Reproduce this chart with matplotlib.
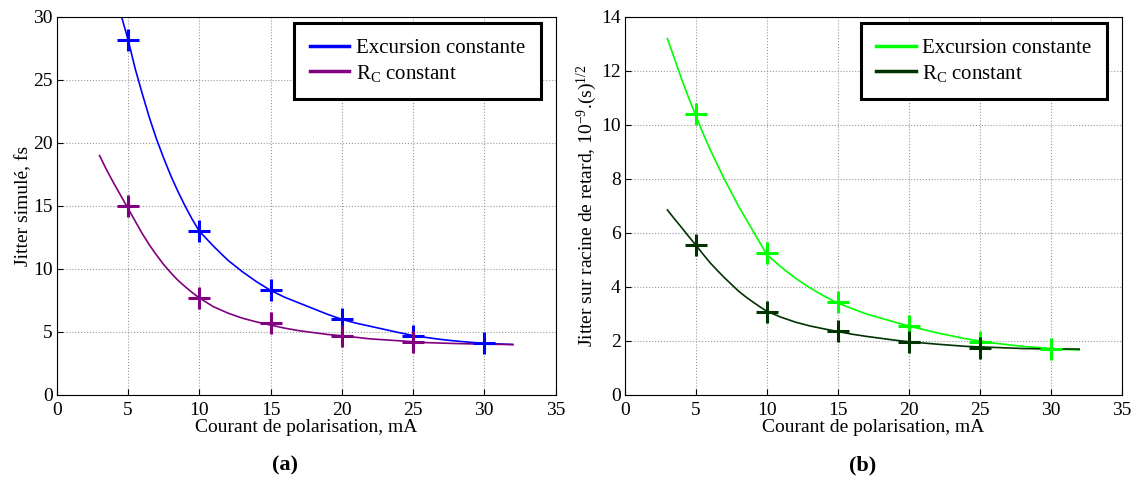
import matplotlib
matplotlib.use("Agg")
import matplotlib.pyplot as plt

plt.rcParams["font.family"] = ["Liberation Serif", "DejaVu Serif"]
plt.rcParams["mathtext.fontset"] = "custom"
plt.rcParams["mathtext.rm"] = "Liberation Serif"
plt.rcParams["mathtext.it"] = "Liberation Serif:italic"

# measured points (markers)
x_meas_a = [5, 10, 15, 20, 25, 30]
exc_meas = [28.2, 13.0, 8.3, 6.0, 4.7, 4.1]
x_meas_rc = [5, 10, 15, 20, 25]
rc_meas = [15.0, 7.7, 5.7, 4.7, 4.2]

x_meas_b = [5, 10, 15, 20, 25, 30]
exc_meas_b = [10.4, 5.25, 3.45, 2.55, 1.95, 1.7]
rc_meas_b = [5.55, 3.07, 2.35, 1.95, 1.75]

# fitted curves
exc_fit_x = [4.55, 5, 5.5, 6, 6.5, 7, 7.5, 8, 8.5, 9, 9.5, 10, 11, 12, 13, 14, 15,
             16, 17, 18, 19, 20, 21, 22, 23, 24, 25, 26, 27, 28, 29, 30, 31, 32]
exc_fit_y = [30.0, 28.2, 25.9, 23.9, 22.0, 20.3, 18.8, 17.4, 16.15, 15.0, 13.95,
             13.0, 11.8, 10.7, 9.8, 9.0, 8.3, 7.75, 7.3, 6.85, 6.4, 6.0, 5.7, 5.45,
             5.2, 4.95, 4.72, 4.55, 4.4, 4.28, 4.18, 4.1, 4.05, 4.0]
rc_fit_x = [3, 3.5, 4, 4.5, 5, 5.5, 6, 6.5, 7, 7.5, 8, 8.5, 9, 9.5, 10, 11, 12, 13,
            14, 15, 16, 17, 18, 19, 20, 22, 24, 26, 28, 30, 32]
rc_fit_y = [19.0, 17.85, 16.8, 15.8, 14.8, 13.8, 12.8, 11.9, 11.1, 10.35, 9.7, 9.1,
            8.6, 8.13, 7.7, 7.0, 6.5, 6.1, 5.8, 5.55, 5.3, 5.1, 4.95, 4.8, 4.7, 4.45,
            4.3, 4.15, 4.08, 4.03, 4.0]

exc_fit_x_b = [3, 3.5, 4, 4.5, 5, 5.5, 6, 6.5, 7, 7.5, 8, 8.5, 9, 9.5, 10, 11, 12,
               13, 14, 15, 16, 17, 18, 19, 20, 22, 24, 26, 28, 30, 32]
exc_fit_y_b = [13.2, 12.45, 11.7, 11.0, 10.35, 9.7, 9.1, 8.55, 8.0, 7.5, 7.0, 6.55,
               6.1, 5.65, 5.2, 4.74, 4.33, 3.98, 3.67, 3.4, 3.2, 3.0, 2.85, 2.7,
               2.55, 2.3, 2.08, 1.92, 1.8, 1.72, 1.66]
rc_fit_y_b = [6.85, 6.52, 6.2, 5.87, 5.55, 5.22, 4.9, 4.62, 4.35, 4.1, 3.85, 3.64,
              3.45, 3.27, 3.1, 2.88, 2.7, 2.56, 2.45, 2.35, 2.25, 2.17, 2.1, 2.03,
              1.97, 1.88, 1.8, 1.76, 1.72, 1.7, 1.7]

c_blue = "#0000ff"
c_purple = "#800080"
c_green = "#00ff00"
c_dark = "#003300"

fig = plt.figure(figsize=(11.36, 4.84), dpi=100)
ax1 = fig.add_axes([0.050, 0.184, 0.439, 0.781])
ax2 = fig.add_axes([0.550, 0.184, 0.4375, 0.781])


def style(ax, ylim, yticks, ylabel):
    ax.set_xlim(0, 35)
    ax.set_ylim(*ylim)
    ax.set_xticks(range(0, 36, 5))
    ax.set_yticks(yticks)
    ax.grid(True, color="#999999", linestyle=":", linewidth=0.8)
    ax.tick_params(direction="in", labelsize=14, length=4)
    ax.tick_params(axis="x", pad=5)
    ax.tick_params(axis="y", pad=3)
    ax.set_xlabel("Courant de polarisation, mA", fontsize=14, labelpad=0)
    ax.set_ylabel(ylabel, fontsize=14, labelpad=1)
    for s in ax.spines.values():
        s.set_linewidth(0.8)


ax1.plot(exc_fit_x, exc_fit_y, color=c_blue, lw=1.2, label="Excursion constante")
ax1.plot(rc_fit_x, rc_fit_y, color=c_purple, lw=1.2, label="R$_\\mathrm{C}$ constant")
ax1.plot(x_meas_a, exc_meas, "+", color=c_blue, ms=16, mew=2.2)
ax1.plot(x_meas_rc, rc_meas, "+", color=c_purple, ms=16, mew=2.2)
style(ax1, (0, 30), range(0, 31, 5), "Jitter simulé, fs")

ax2.plot(exc_fit_x_b, exc_fit_y_b, color=c_green, lw=1.2, label="Excursion constante")
ax2.plot(exc_fit_x_b, rc_fit_y_b, color=c_dark, lw=1.2, label="R$_\\mathrm{C}$ constant")
ax2.plot(x_meas_b, exc_meas_b, "+", color=c_green, ms=16, mew=2.2)
ax2.plot(x_meas_rc, rc_meas_b, "+", color=c_dark, ms=16, mew=2.2)
style(ax2, (0, 14), range(0, 15, 2), "Jitter sur racine de retard, 10$^{-9}$.(s)$^{1/2}$")

for ax in (ax1, ax2):
    leg = ax.legend(loc="upper right", bbox_to_anchor=(0.97, 0.984), fontsize=15,
                    fancybox=False, framealpha=1, edgecolor="black",
                    handlelength=1.9, handletextpad=0.3, borderpad=0.75,
                    labelspacing=0.22, borderaxespad=0)
    leg.get_frame().set_linewidth(2.2)
    for line in leg.get_lines():
        line.set_linewidth(2.5)

fig.text(0.251, 0.039, "(a)", fontsize=16, fontweight="bold", ha="center", va="center")
fig.text(0.759, 0.039, "(b)", fontsize=16, fontweight="bold", ha="center", va="center")

fig.savefig("out.png", dpi=100)
